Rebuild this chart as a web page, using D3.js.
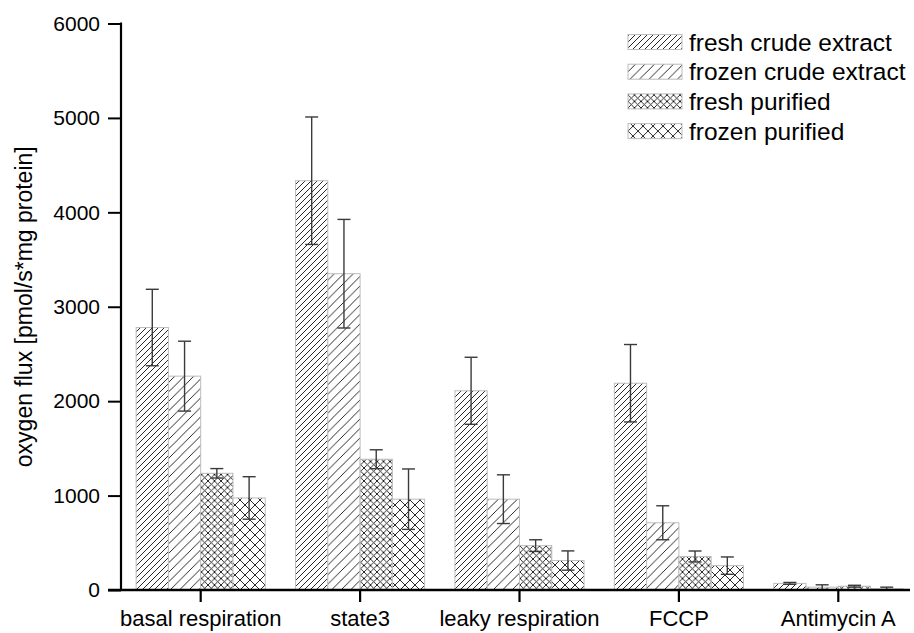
<!DOCTYPE html>
<html>
<head>
<meta charset="utf-8">
<script src="https://cdn.jsdelivr.net/npm/d3@7"></script>
<style>
  html, body { margin: 0; padding: 0; background: #fff; }
  svg { display: block; font-family: "Liberation Sans", Arial, sans-serif; }
</style>
</head>
<body>
<svg id="chart" width="914" height="633"></svg>
<script>
// Measurement conditions along the x axis
const categories = ["basal respiration", "state3", "leaky respiration", "FCCP", "Antimycin A"];

// Sample preparations (one bar per preparation in every group)
const seriesNames = ["fresh crude extract", "frozen crude extract", "fresh purified", "frozen purified"];

// Mean oxygen flux per preparation, in category order
const freshCrude      = [2780, 4335, 2110, 2190, 70];
const frozenCrude     = [2265, 3350, 962, 712, 30];
const freshPurified   = [1236, 1385, 470, 355, 40];
const frozenPurified  = [975, 962, 312, 258, 12];

// Standard deviations (error bar half-lengths)
const freshCrudeErr     = [405, 675, 355, 410, 10];
const frozenCrudeErr    = [370, 575, 258, 180, 25];
const freshPurifiedErr  = [50, 100, 62, 58, 10];
const frozenPurifiedErr = [225, 320, 102, 92, 18];

const yTicks = [0, 1000, 2000, 3000, 4000, 5000, 6000];

const means = [freshCrude, frozenCrude, freshPurified, frozenPurified];
const errs  = [freshCrudeErr, frozenCrudeErr, freshPurifiedErr, frozenPurifiedErr];

const rows = [];
categories.forEach((c, ci) => {
  seriesNames.forEach((s, si) => {
    rows.push({ category: c, series: s, si, value: means[si][ci], err: errs[si][ci] });
  });
});

const svg = d3.select("#chart");

// Hatch fills: single diagonals for crude extracts, cross-hatch for purified samples
const defs = svg.append("defs");
function hatch(id, size, cross) {
  const p = defs.append("pattern")
    .attr("id", id)
    .attr("patternUnits", "userSpaceOnUse")
    .attr("width", size).attr("height", size);
  p.append("rect").attr("width", size).attr("height", size).attr("fill", "#fff");
  const s = size;
  p.append("path")
    .attr("d", `M0,${s} L${s},0 M${-s/2},${s/2} L${s/2},${-s/2} M${s/2},${s*1.5} L${s*1.5},${s/2}`)
    .attr("stroke", "#111").attr("stroke-width", 0.9).attr("fill", "none");
  if (cross) {
    p.append("path")
      .attr("d", `M0,0 L${s},${s} M${-s/2},${s/2} L${s/2},${s*1.5} M${s/2},${-s/2} L${s*1.5},${s/2}`)
      .attr("stroke", "#111").attr("stroke-width", 0.9).attr("fill", "none");
  }
}
hatch("h-fresh-crude", 6, false);
hatch("h-frozen-crude", 9.5, false);
hatch("h-fresh-pur", 6.5, true);
hatch("h-frozen-pur", 10, true);
const fills = ["url(#h-fresh-crude)", "url(#h-frozen-crude)", "url(#h-fresh-pur)", "url(#h-frozen-pur)"];

const plot = { left: 121, right: 918, top: 23.5, bottom: 590 };

const x0 = d3.scaleBand()
  .domain(categories)
  .range([plot.left, plot.right])
  .paddingInner(0.19)
  .paddingOuter(0.095);

const x1 = d3.scaleBand()
  .domain(seriesNames)
  .range([0, x0.bandwidth()])
  .padding(0);

const y = d3.scaleLinear()
  .domain([0, 6000])
  .range([plot.bottom, plot.top]);

// Bars
svg.append("g")
  .selectAll("rect")
  .data(rows)
  .join("rect")
  .attr("x", d => x0(d.category) + x1(d.series))
  .attr("y", d => y(d.value))
  .attr("width", x1.bandwidth())
  .attr("height", d => y(0) - y(d.value))
  .attr("fill", d => fills[d.si])
  .attr("stroke", "#bdbdbd")
  .attr("stroke-width", 1);

// Error bars
const capW = 13;
const eb = svg.append("g")
  .attr("stroke", "#3a3a3a")
  .attr("stroke-width", 1.4)
  .attr("fill", "none");
rows.forEach(d => {
  const cx = x0(d.category) + x1(d.series) + x1.bandwidth() / 2;
  const yTop = y(d.value + d.err);
  const yBot = y(Math.max(0, d.value - d.err));
  eb.append("line").attr("x1", cx).attr("x2", cx).attr("y1", yTop).attr("y2", yBot);
  eb.append("line").attr("x1", cx - capW / 2).attr("x2", cx + capW / 2).attr("y1", yTop).attr("y2", yTop);
  eb.append("line").attr("x1", cx - capW / 2).attr("x2", cx + capW / 2).attr("y1", yBot).attr("y2", yBot);
});

// Y axis
const yAxis = d3.axisLeft(y)
  .tickValues(yTicks)
  .tickFormat(d3.format("d"))
  .tickSize(13)
  .tickPadding(8);
const gy = svg.append("g")
  .attr("transform", `translate(${plot.left},0)`)
  .call(yAxis);
gy.select(".domain").remove();
gy.selectAll(".tick line").attr("stroke", "#000").attr("stroke-width", 2);
gy.selectAll(".tick text").attr("font-size", 21).attr("fill", "#000")
  .attr("font-family", "'Liberation Sans', Arial, sans-serif");
svg.append("line")
  .attr("x1", plot.left).attr("x2", plot.left)
  .attr("y1", plot.top - 1).attr("y2", plot.bottom)
  .attr("stroke", "#000").attr("stroke-width", 2.2);

// X axis
const xAxis = d3.axisBottom(x0).tickSize(12).tickPadding(8);
const gx = svg.append("g")
  .attr("transform", `translate(0,${plot.bottom})`)
  .call(xAxis);
gx.select(".domain").remove();
gx.selectAll(".tick line").attr("stroke", "#000").attr("stroke-width", 2.2);
gx.selectAll(".tick text").attr("font-size", 22).attr("fill", "#000")
  .attr("font-family", "'Liberation Sans', Arial, sans-serif");
svg.append("line")
  .attr("x1", 108).attr("x2", 910)
  .attr("y1", plot.bottom).attr("y2", plot.bottom)
  .attr("stroke", "#000").attr("stroke-width", 2.4);

// Y axis title
svg.append("text")
  .attr("transform", `translate(32,${(plot.top + plot.bottom) / 2}) rotate(-90)`)
  .attr("text-anchor", "middle")
  .attr("font-size", 23)
  .attr("fill", "#000")
  .text("oxygen flux [pmol/s*mg protein]");

// Legend
const legend = svg.append("g").attr("transform", "translate(628,42)");
seriesNames.forEach((s, i) => {
  const g = legend.append("g").attr("transform", `translate(0,${i * 29.7})`);
  g.append("rect")
    .attr("x", 0).attr("y", -7.5)
    .attr("width", 54).attr("height", 15)
    .attr("fill", fills[i])
    .attr("stroke", "#bdbdbd").attr("stroke-width", 1);
  g.append("text")
    .attr("x", 61).attr("y", 8.5)
    .attr("font-size", 24.5)
    .attr("fill", "#000")
    .text(s);
});
</script>
</body>
</html>
